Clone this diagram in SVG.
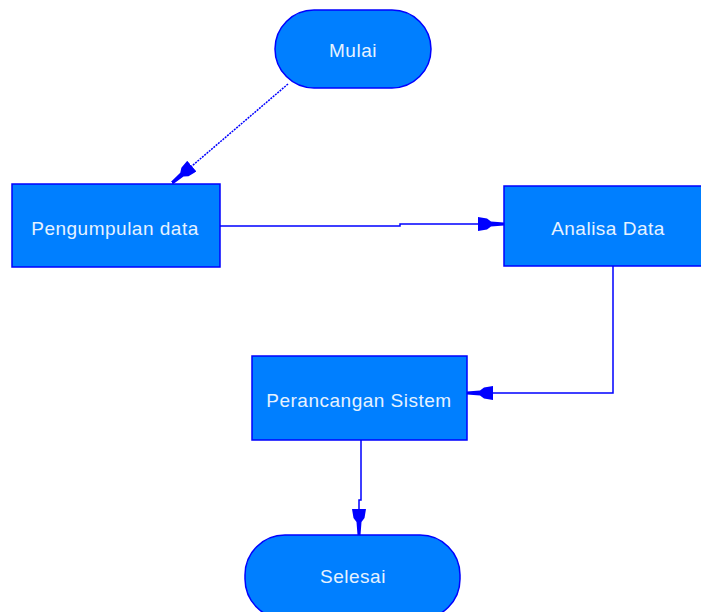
<svg xmlns="http://www.w3.org/2000/svg" width="701" height="612" viewBox="0 0 701 612">
<style>
.node{fill:#007FFF;stroke:#0000FF;stroke-width:1.5}
.lbl{font-family:"Liberation Sans",Arial,sans-serif;font-size:19px;letter-spacing:0.5px;fill:#E6F2FF;text-anchor:middle;dominant-baseline:central}
.conn{fill:none;stroke:#0000FF;stroke-width:1.5}
</style>
<defs>
<marker id="arr" viewBox="0 0 26 14" refX="26" refY="7" markerWidth="26" markerHeight="14" markerUnits="userSpaceOnUse" orient="auto">
<path d="M0,0 L9,1.5 L13,4.5 L26,5.5 L26,8.5 L13,9.5 L9,12.5 L0,14 Z" fill="#0000FF"/>
</marker>
</defs>
<rect width="701" height="612" fill="#FFFFFF"/>
<g id="connectors">
<line class="conn" x1="288" y1="84" x2="172" y2="183" marker-end="url(#arr)" stroke-dasharray="2,1"/>
<polyline class="conn" points="220,226 400,226 400,224 504,224" marker-end="url(#arr)"/>
<polyline class="conn" points="613,266 613,393 467,393" marker-end="url(#arr)"/>
<polyline class="conn" points="361,440 361,500 359,500 359,535" marker-end="url(#arr)"/>
</g>
<g id="mulai">
<rect class="node" x="275" y="10" width="156" height="78" rx="39" ry="39"/>
<text class="lbl" x="353" y="50">Mulai</text>
</g>
<g id="pengumpulan">
<rect class="node" x="12" y="184" width="208" height="83"/>
<text class="lbl" x="115" y="228">Pengumpulan data</text>
</g>
<g id="analisa">
<rect class="node" x="504" y="186" width="200" height="80"/>
<text class="lbl" x="608" y="228">Analisa Data</text>
</g>
<g id="perancangan">
<rect class="node" x="252" y="356" width="215" height="84"/>
<text class="lbl" x="359" y="400">Perancangan Sistem</text>
</g>
<g id="selesai">
<rect class="node" x="245" y="535" width="215" height="84" rx="40" ry="40"/>
<text class="lbl" x="353" y="576">Selesai</text>
</g>
</svg>
